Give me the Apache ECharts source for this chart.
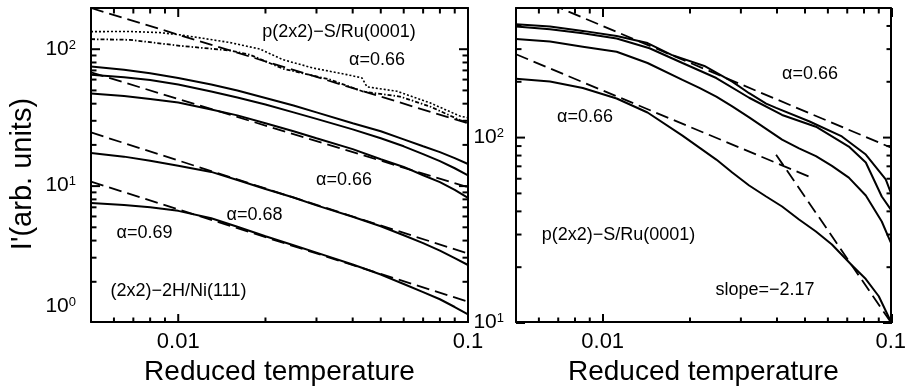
<!DOCTYPE html>
<html><head><meta charset="utf-8">
<script src="https://cdn.jsdelivr.net/npm/echarts@6/dist/echarts.min.js"></script>
<style>html,body{margin:0;padding:0;background:#fff}#c{width:909px;height:391px}</style>
</head><body><div id="c"></div>
<script>
// ---------- Left panel data: (2x2)-2H/Ni(111) and p(2x2)-S/Ru(0001) ----------
const leftX = [0.005,0.0065,0.008,0.01,0.013,0.016,0.02,0.025,0.03,0.04,0.05,0.06,0.07,0.08,0.09,0.1];
const leftA = [74.7,70.6,66.6,61.3,55.0,49.7,43.8,38.6,34.4,28.6,25.0,21.8,19.4,17.6,15.9,14.4];
const leftB = [65.0,62.3,59.3,55.0,48.9,44.2,39.3,34.4,30.8,25.8,22.2,19.4,17.0,15.1,13.4,11.9];
const leftC = [47.3,45.3,43.1,40.6,36.1,32.7,28.6,25.0,22.2,18.5,15.6,13.7,11.9,10.6,9.29,8.12];
const leftD = [17.3,16.3,15.2,14.0,12.6,11.0,9.45,8.19,7.16,5.91,5.04,4.33,3.79,3.34,2.94,2.62];
const leftE = [7.47,7.22,6.93,6.53,5.76,4.99,4.26,3.66,3.23,2.64,2.23,1.90,1.66,1.47,1.29,1.14];
const ruDottedX = [0.005,0.00682,0.00865,0.01014,0.01189,0.01508,0.01915,0.02299,0.02917,0.03822,0.04306,0.04481,0.05686,0.0739,0.0938,0.1];
const ruDottedY = [134.3,134.5,132.1,127.1,120.9,111.7,100,83.6,72.7,65.0,61.5,52.9,49.1,40.4,32.3,31.4];
const ruDashDotX = [0.005,0.00682,0.01014,0.01508,0.01769,0.02299,0.0334,0.0434,0.05824,0.0739,0.0938,0.1];
const ruDashDotY = [118.2,116.9,105.7,97.7,90.9,71.8,59.8,48.9,44.9,38.0,30.2,28.6];
const fitX = [0.005,0.1];
const leftFitS = [200,28.6];
const leftFitC = [67.5,9.72];
const leftFitD = [24.5,3.18];
const leftFitE = [10.7,1.41];

// ---------- Right panel data: p(2x2)-S/Ru(0001) ----------
const r1aX = [0.005,0.00656,0.00853,0.01118,0.01431,0.01734,0.02254,0.02817,0.03225,0.03694,0.04,0.05205,0.06767,0.08195,0.0961,0.1];
const r1aY = [408,397,376,353,323,279,243,200,173,152,144,122,101,80.6,59.1,50.3];
const r1bX = [0.005,0.00656,0.00853,0.01118,0.01454,0.01892,0.0248,0.03225,0.04196,0.055,0.07154,0.08195,0.0931,0.1];
const r1bY = [397,384,365,342,303,252,209,163.5,132,114,89,73,47.8,40.7];
const r3X = [0.005,0.00656,0.00853,0.01118,0.01431,0.01892,0.02166,0.0248,0.02817,0.03225,0.03694,0.04196,0.04805,0.055,0.0625,0.07154,0.08195,0.0931,0.1];
const r3Y = [340,329,309,290,252,204.5,185,166,147,128,111,97,87,79,70,60.5,48.4,35,27];
const r4X = [0.005,0.00656,0.00853,0.01118,0.01431,0.01892,0.02166,0.0248,0.02817,0.03225,0.03694,0.04196,0.04805,0.055,0.0625,0.0733,0.08195,0.0909,0.1];
const r4Y = [207,200,184.5,162,136,102,87.9,75.7,64.4,54.8,47.8,42.2,35.9,30.9,26.3,20.3,17.1,13.8,10.1];
const rightFitTopX = [0.005,0.1],   rightFitTopY = [630,88];
const rightFitLowX = [0.005,0.0533], rightFitLowY = [281,60.3];
const rightFitSteepX = [0.04,0.1],  rightFitSteepY = [80.5,10];

// ---------- Axis ranges and ticks (real values; plotted on log10 scales) ----------
const xRange = [0.005,0.1];
const leftYRange = [1,200];
const rightYRange = [10,500];
const xMajor = [0.01,0.1];
const xMinor = [0.006,0.007,0.008,0.009,0.02,0.03,0.04,0.05,0.06,0.07,0.08,0.09];
const leftYMajor = [10,100];
const leftYMinLabel = [1];
const leftYMinor = [2,3,4,5,6,7,8,9,20,30,40,50,60,70,80,90];
const rightYMajor = [10,100];
const rightYMinor = [20,30,40,50,60,70,80,90,200,300,400];

const xTitle = 'Reduced temperature';
const yTitle = "I'(arb. units)";

// ---------- Layout / style ----------
const GRIDS = [
  {left:91, top:8, width:377, height:315},
  {left:516, top:8, width:376, height:315}
];
const FONT = '"Liberation Sans", Arial, Helvetica, sans-serif';
const BLACK = '#000';
const MAJOR_LEN = 9, MINOR_LEN = 5.5;
const L = v => Math.log10(v);
const LA = arr => arr.map(L);

function pairs(xs, ys){ return xs.map((x,i)=>[L(x), L(ys[i])]); }
const fmtX = v => String(parseFloat(Math.pow(10, v).toPrecision(3)));
const fmtY = v => '{b|10}{s|' + Math.round(v) + '}';
const richY = {
  b:{fontSize:21, fontFamily:FONT, color:BLACK},
  s:{fontSize:13, fontFamily:FONT, color:BLACK, verticalAlign:'top'}
};

function baseAxis(grid, range){
  return {type:'value', gridIndex:grid, min:L(range[0]), max:L(range[1]),
    splitLine:{show:false}, axisLine:{show:true,onZero:false,lineStyle:{color:BLACK,width:2}},
    axisLabel:{show:false}, axisTick:{show:false}};
}
function xAxesFor(grid){
  const b = baseAxis(grid, xRange);
  return [
    Object.assign({}, b, {position:'bottom',
      axisLabel:{show:true, customValues:LA(xMajor), margin:9, color:BLACK, fontSize:22, fontFamily:FONT, formatter:fmtX},
      name:xTitle, nameLocation:'middle', nameGap:33,
      nameTextStyle:{fontSize:28, fontFamily:FONT, color:BLACK}}),
    Object.assign({}, b, {position:'top'})
  ];
}
function yAxesFor(grid, range, labelVals, margin, withName){
  const b = baseAxis(grid, range);
  const main = Object.assign({}, b, {position:'left',
      axisLabel:{show:true, customValues:LA(labelVals), margin:margin, formatter:fmtY, rich:richY}});
  if (withName) Object.assign(main, {name:yTitle, nameLocation:'middle', nameGap:54, nameRotate:90,
      nameTextStyle:{fontSize:29, fontFamily:FONT, color:BLACK, padding:[0,18,0,0]}});
  return [main, Object.assign({}, b, {position:'right'})];
}

const xAxis = xAxesFor(0).concat(xAxesFor(1));          // grid0: 0,1  grid1: 2,3
const yLeft = yAxesFor(0, leftYRange, leftYMajor, 15, true);
yLeft.push(Object.assign({}, baseAxis(0, leftYRange), {position:'left', axisLine:{show:false,onZero:false},
  axisLabel:{show:true, customValues:LA(leftYMinLabel), margin:15, verticalAlign:'bottom', padding:[0,0,5,0], formatter:fmtY, rich:richY}}));
const yRight = yAxesFor(1, rightYRange, rightYMajor, 12, false);
const yAxis = yLeft.concat(yRight);   // grid0: 0,1,2  grid1: 3,4

const SOLID = {color:BLACK, width:2, type:'solid'};
const DASH = {color:BLACK, width:1.8, type:[13,6]};
const DOT = {color:BLACK, width:1.6, type:[2,2]};
const DASHDOT = {color:BLACK, width:1.8, type:[4,2,1.5,2]};
function ser(xi, yi, data, style){
  return {type:'line', xAxisIndex:xi, yAxisIndex:yi, data:data, symbol:'none', showSymbol:false,
    lineStyle:style, silent:true, clip:true, animation:false, z:3};
}

const series = [
  ser(0,0,pairs(leftX,leftA),SOLID),
  ser(0,0,pairs(leftX,leftB),SOLID),
  ser(0,0,pairs(leftX,leftC),SOLID),
  ser(0,0,pairs(leftX,leftD),SOLID),
  ser(0,0,pairs(leftX,leftE),SOLID),
  ser(0,0,pairs(ruDottedX,ruDottedY),DOT),
  ser(0,0,pairs(ruDashDotX,ruDashDotY),DASHDOT),
  ser(0,0,pairs(fitX,leftFitS),DASH),
  ser(0,0,pairs(fitX,leftFitC),DASH),
  ser(0,0,pairs(fitX,leftFitD),DASH),
  ser(0,0,pairs(fitX,leftFitE),DASH),
  ser(2,3,pairs(r1aX,r1aY),SOLID),
  ser(2,3,pairs(r1bX,r1bY),SOLID),
  ser(2,3,pairs(r3X,r3Y),SOLID),
  ser(2,3,pairs(r4X,r4Y),SOLID),
  ser(2,3,pairs(rightFitTopX,rightFitTopY),DASH),
  ser(2,3,pairs(rightFitLowX,rightFitLowY),DASH),
  ser(2,3,pairs(rightFitSteepX,rightFitSteepY),DASH)
];

const annotations = [
  {text:'p(2x2)\u2212S/Ru(0001)', x:339, y:32},
  {text:'\u03b1=0.66', x:377, y:60},
  {text:'\u03b1=0.66', x:344, y:180},
  {text:'\u03b1=0.68', x:254.5, y:215},
  {text:'\u03b1=0.69', x:144.5, y:233},
  {text:'(2x2)\u22122H/Ni(111)', x:178.5, y:291},
  {text:'\u03b1=0.66', x:810, y:74},
  {text:'\u03b1=0.66', x:585, y:117},
  {text:'p(2x2)\u2212S/Ru(0001)', x:618.5, y:235},
  {text:'slope=\u22122.17', x:765, y:290}
];
const annoGraphics = annotations.map(a=>({type:'text', x:a.x, y:a.y, z:10,
    style:{text:a.text, fill:BLACK, font:'18px ' + FONT, textAlign:'center', verticalAlign:'middle'}}));

// Inward tick marks on all four sides of a panel, mapped with the panel's log10 scale.
function tickGraphics(g, xR, yR, xMaj, xMin, yMaj, yMin){
  const x0 = L(xR[0]), x1 = L(xR[1]), y0 = L(yR[0]), y1 = L(yR[1]);
  const px = v => g.left + (L(v) - x0) / (x1 - x0) * g.width;
  const py = v => g.top + g.height - (L(v) - y0) / (y1 - y0) * g.height;
  const yb = g.top + g.height, yt = g.top, xl = g.left, xr = g.left + g.width;
  const out = [];
  const seg = (a, b, c, d) => out.push({type:'line',
    shape:{x1:a, y1:b, x2:c, y2:d}, style:{stroke:BLACK, lineWidth:2}});
  const addX = (v, len) => { const x = px(v); seg(x, yb, x, yb - len); seg(x, yt, x, yt + len); };
  const addY = (v, len) => { const y = py(v); seg(xl, y, xl + len, y); seg(xr, y, xr - len, y); };
  xMaj.forEach(v=>addX(v, MAJOR_LEN)); xMin.forEach(v=>addX(v, MINOR_LEN));
  yMaj.forEach(v=>addY(v, MAJOR_LEN)); yMin.forEach(v=>addY(v, MINOR_LEN));
  return out;
}
const tickEls = tickGraphics(GRIDS[0], xRange, leftYRange, xMajor, xMinor, leftYMajor, leftYMinor)
  .concat(tickGraphics(GRIDS[1], xRange, rightYRange, xMajor, xMinor, rightYMajor, rightYMinor));

const chart = echarts.init(document.getElementById('c'), null, {renderer:'canvas'});
chart.setOption({
  backgroundColor:'#fff',
  animation:false,
  tooltip:{show:false},
  grid:GRIDS.map(g=>Object.assign({containLabel:false}, g)),
  xAxis:xAxis,
  yAxis:yAxis,
  series:series,
  graphic:tickEls.concat(annoGraphics)
});
</script>
</body></html>
